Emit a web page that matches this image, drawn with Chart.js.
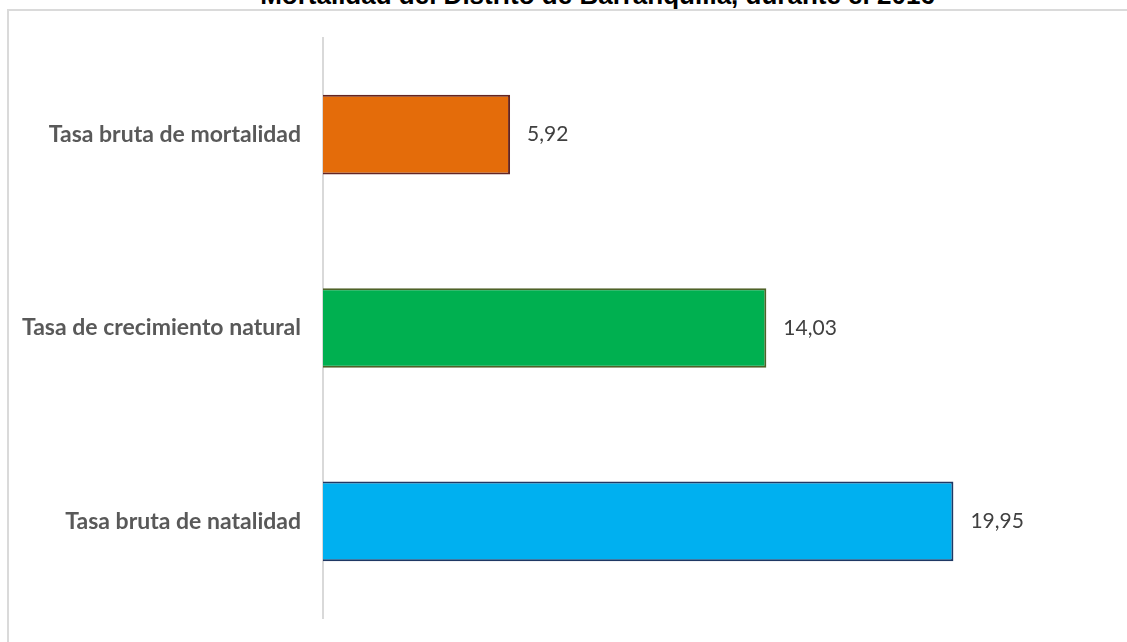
<!DOCTYPE html>
<html lang="es">
<head>
    <meta charset="UTF-8">
    <title>Tasas de natalidad y mortalidad - Barranquilla</title>
    <script src="https://cdn.jsdelivr.net/npm/chart.js"></script>
    <style>
        body { margin: 0; overflow: hidden; background: #fff; }
        #titulo {
            position: absolute; left: 0; top: -18px; width: 1195px;
            text-align: center; font: bold 26px "Liberation Sans", Arial, sans-serif;
            line-height: 26px; color: #000; white-space: nowrap;
        }
        #marco {
            position: absolute; left: 7px; top: 9px; width: 1200px; height: 700px;
            border-left: 2px solid #dadada; border-top: 2px solid #dadada;
        }
        #contenedor { position: absolute; left: 0; top: 0; width: 1127px; height: 642px; }
    </style>
</head>
<body>

    <div id="titulo">Mortalidad del Distrito de Barranquilla, durante el 2016</div>
    <div id="marco"></div>
    <div id="contenedor"><canvas id="grafico"></canvas></div>

    <script>
        // Indicadores y sus tasas (por cada 1000 habitantes)
        const indicadores = ['Tasa bruta de mortalidad', 'Tasa de crecimiento natural', 'Tasa bruta de natalidad'];
        const tasas = [5.92, 14.03, 19.95];
        const rellenos = ['#e46c0a', '#00b050', '#00b0f0'];
        const bordes = ['#632523', '#4f6228', '#1f3864'];

        // etiqueta con el valor a la derecha de cada barra
        const etiquetasValor = {
            id: 'etiquetasValor',
            afterDatasetsDraw(chart) {
                const ctx = chart.ctx;
                const meta = chart.getDatasetMeta(0);
                ctx.save();
                ctx.font = '21px Lato, "Open Sans", sans-serif';
                ctx.fillStyle = '#404040';
                ctx.textAlign = 'left';
                ctx.textBaseline = 'middle';
                meta.data.forEach((barra, i) => {
                    const texto = tasas[i].toFixed(2).replace('.', ',');
                    ctx.fillText(texto, barra.x + 17, barra.y);
                });
                ctx.restore();
            }
        };

        const ctx = document.getElementById('grafico').getContext('2d');
        new Chart(ctx, {
            type: 'bar',
            data: {
                labels: indicadores,
                datasets: [{
                    data: tasas,
                    backgroundColor: rellenos,
                    borderColor: bordes,
                    borderWidth: 2,
                    categoryPercentage: 1,
                    barPercentage: 0.412
                }]
            },
            options: {
                indexAxis: 'y',
                responsive: true,
                maintainAspectRatio: false,
                animation: false,
                layout: { padding: { top: 38, bottom: 24, left: 0, right: 14 } },
                plugins: {
                    legend: { display: false },
                    tooltip: { enabled: false }
                },
                scales: {
                    x: {
                        display: false,
                        min: 0,
                        max: 25
                    },
                    y: {
                        afterFit(scale) {
                            scale.width = 323;
                            // sin margen extra arriba/abajo por las etiquetas
                            scale.paddingTop = 0;
                            scale.paddingBottom = 0;
                        },
                        grid: { drawOnChartArea: false, drawTicks: false },
                        border: { display: true, color: '#d9d9d9', width: 2 },
                        ticks: {
                            padding: 22,
                            color: '#595959',
                            font: { family: 'Lato, "Open Sans", sans-serif', size: 23, weight: 'bold' }
                        }
                    }
                }
            },
            plugins: [etiquetasValor]
        });
    </script>

</body>
</html>
